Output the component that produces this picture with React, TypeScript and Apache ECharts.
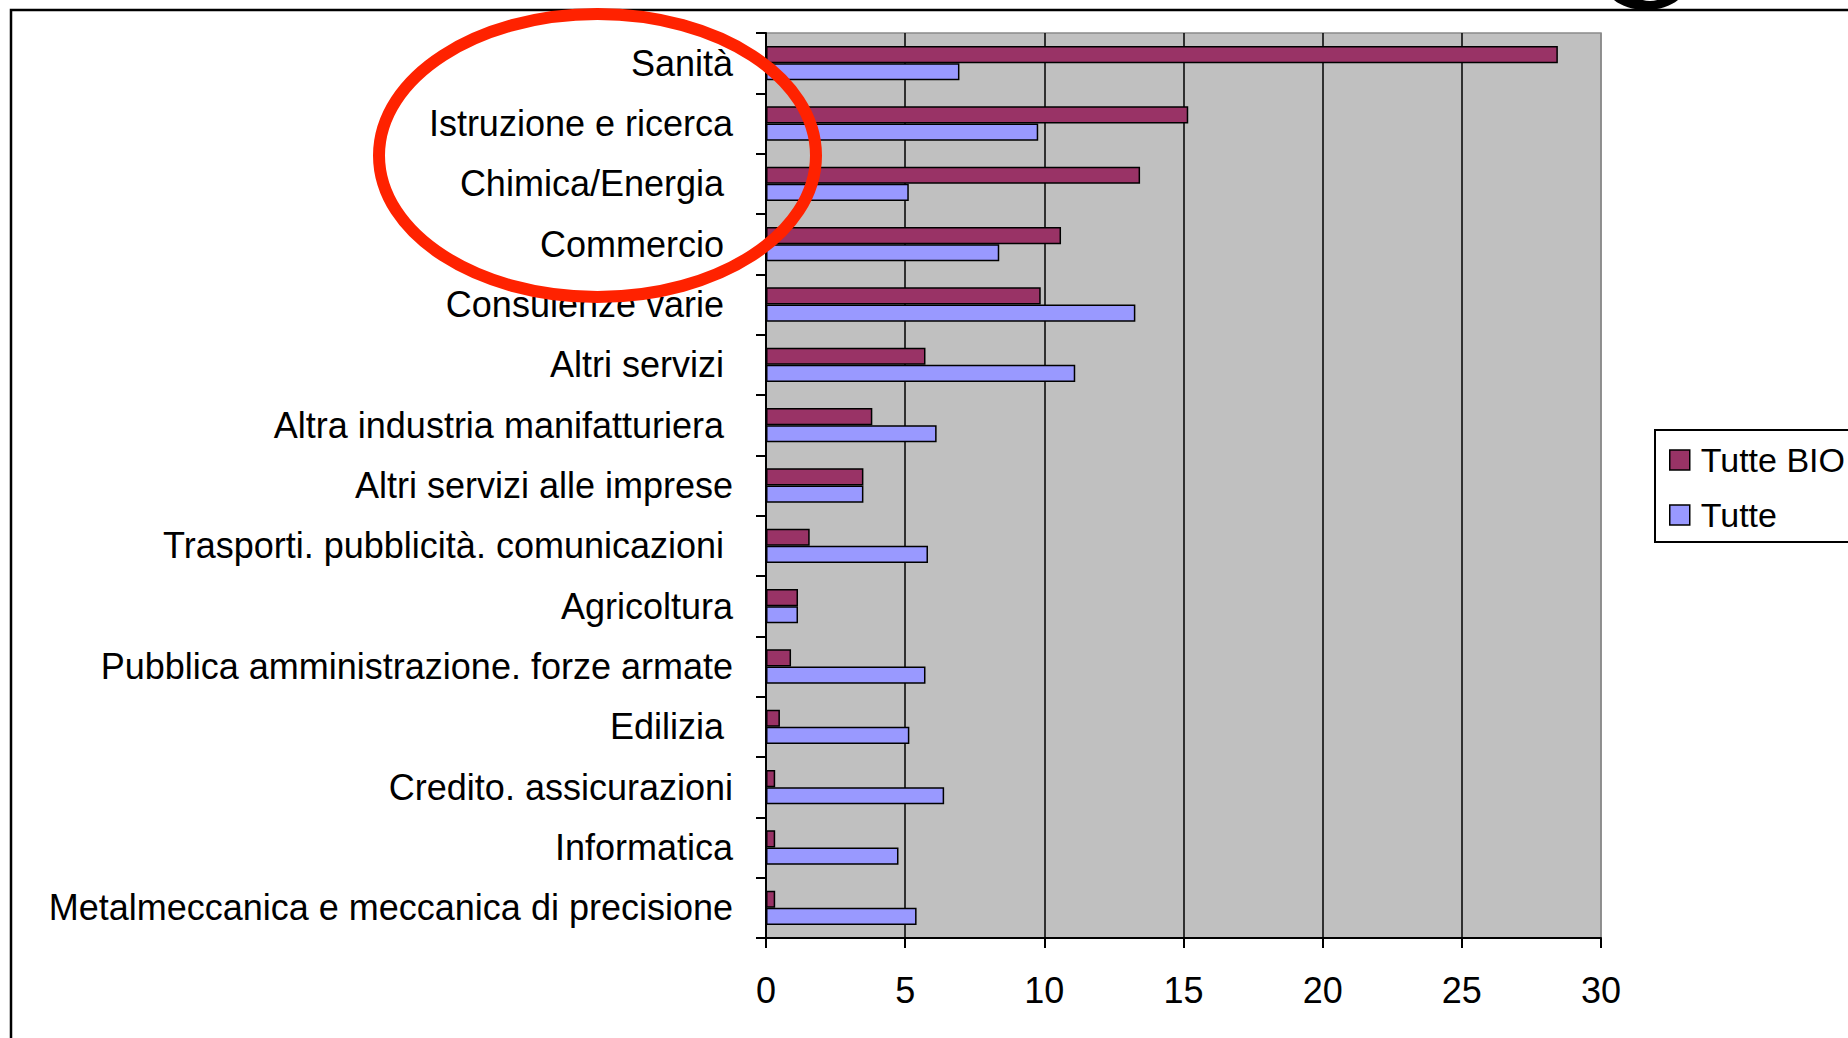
import React, { useEffect, useRef } from 'react';
import * as echarts from 'echarts';

const categories = [
  'Sanità',
  'Istruzione e ricerca',
  'Chimica/Energia ',
  'Commercio ',
  'Consulenze varie ',
  'Altri servizi ',
  'Altra industria manifatturiera ',
  'Altri servizi alle imprese',
  'Trasporti. pubblicità. comunicazioni ',
  'Agricoltura',
  'Pubblica amministrazione. forze armate',
  'Edilizia ',
  'Credito. assicurazioni',
  'Informatica',
  'Metalmeccanica e meccanica di precisione',
];

const seriesNames = ['Tutte BIO', 'Tutte'];

const bioValues = [28.45, 15.17, 13.44, 10.6, 9.87, 5.73, 3.82, 3.5, 1.57, 1.15, 0.9, 0.5, 0.33, 0.33, 0.33];
const tutteValues = [6.95, 9.78, 5.13, 8.38, 13.27, 11.11, 6.13, 3.5, 5.82, 1.15, 5.73, 5.15, 6.4, 4.76, 5.41];

const xMin = 0;
const xMax = 30;
const xStep = 5;

const FONT = '"Liberation Sans", Arial, sans-serif';

export default function App() {
  const ref = useRef<HTMLDivElement>(null);

  useEffect(() => {
    const chart = echarts.init(ref.current as HTMLDivElement, null, { renderer: 'svg' });
    const gridLeft = 766;
    const gridTop = 33;
    const gridWidth = 835;
    const gridHeight = 905;

    const option: any = {
      animation: false,
      backgroundColor: '#ffffff',
      textStyle: { fontFamily: FONT },
      grid: {
        left: gridLeft,
        top: gridTop,
        width: gridWidth,
        height: gridHeight,
        show: true,
        backgroundColor: '#c0c0c0',
        borderColor: '#8a8a8a',
        borderWidth: 1.5,
        containLabel: false,
      },
      legend: {
        orient: 'vertical',
        left: 1655,
        top: 430,
        data: seriesNames,
        icon: 'rect',
        itemWidth: 20,
        itemHeight: 20,
        itemGap: 19,
        padding: [12, 30, 9, 14],
        backgroundColor: '#ffffff',
        borderColor: '#000000',
        borderWidth: 2,
        borderRadius: 0,
        itemStyle: { borderColor: '#000000', borderWidth: 1.5 },
        textStyle: {
          fontSize: 34,
          lineHeight: 36,
          color: '#000000',
          fontFamily: FONT,
          padding: [0, 0, 0, 6],
        },
      },
      xAxis: {
        type: 'value',
        min: xMin,
        max: xMax,
        interval: xStep,
        position: 'bottom',
        axisLine: { show: true, lineStyle: { color: '#000000', width: 2 } },
        axisTick: { show: true, length: 10, lineStyle: { color: '#000000', width: 2 } },
        axisLabel: {
          fontSize: 36,
          color: '#000000',
          fontFamily: FONT,
          margin: 34,
        },
        splitLine: {
          show: true,
          lineStyle: {
            color: ['#000000', '#000000', '#000000', '#000000', '#000000', '#000000', '#8a8a8a'],
            width: 1.5,
          },
        },
      },
      yAxis: {
        type: 'category',
        data: categories,
        inverse: true,
        axisLine: { show: true, lineStyle: { color: '#000000', width: 2 } },
        axisTick: { show: true, length: 10, lineStyle: { color: '#000000', width: 2 } },
        axisLabel: {
          fontSize: 36,
          color: '#000000',
          fontFamily: FONT,
          margin: 33,
          formatter: (v: string) => {
            if (/\s$/.test(v)) return '{p|' + v.trim() + '}';
            return v;
          },
          rich: {
            p: {
              fontSize: 36,
              color: '#000000',
              fontFamily: FONT,
              padding: [0, 9, 0, 0],
            },
          },
        },
        splitLine: { show: false },
      },
      series: [
        {
          name: seriesNames[0],
          type: 'bar',
          data: bioValues,
          barGap: '0%',
          barCategoryGap: '43%',
          itemStyle: { color: '#993366', borderColor: '#000000', borderWidth: 1.5 },
        },
        {
          name: seriesNames[1],
          type: 'bar',
          data: tutteValues,
          barGap: '0%',
          barCategoryGap: '43%',
          itemStyle: { color: '#9999ff', borderColor: '#000000', borderWidth: 1.5 },
        },
      ],
      graphic: [
        {
          type: 'rect',
          z: -10,
          silent: true,
          shape: { x: 11, y: 10, width: 1900, height: 1100 },
          style: { fill: 'none', stroke: '#000000', lineWidth: 2.5 },
        },
        {
          type: 'ellipse',
          z: 50,
          silent: true,
          shape: { cx: 1646, cy: -15, rx: 40, ry: 25 },
          style: { fill: '#000000' },
        },
        {
          type: 'ellipse',
          z: 51,
          silent: true,
          shape: { cx: 1650, cy: -6, rx: 14, ry: 7 },
          style: { fill: '#ffffff' },
        },
        {
          type: 'ellipse',
          z: 100,
          silent: true,
          shape: { cx: 597.5, cy: 155.5, rx: 218.5, ry: 141.5 },
          style: { fill: 'none', stroke: '#ff2200', lineWidth: 12 },
        },
      ],
    };

    chart.setOption(option);
    return () => chart.dispose();
  }, []);

  return (
    <div
      ref={ref}
      style={{ position: 'fixed', left: 0, top: 0, width: 1848, height: 1038, background: '#ffffff' }}
    />
  );
}
